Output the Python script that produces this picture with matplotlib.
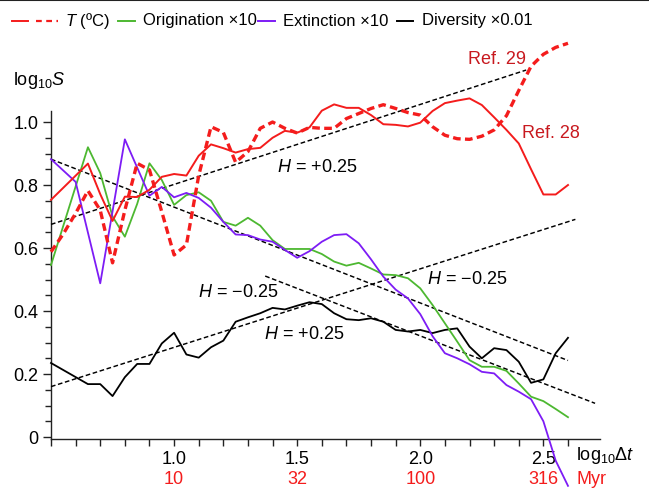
import matplotlib
matplotlib.use("Agg")
import matplotlib.pyplot as plt
from matplotlib.lines import Line2D
from matplotlib.ticker import MultipleLocator

plt.rcParams['font.family'] = ['Liberation Sans', 'DejaVu Sans']
plt.rcParams['mathtext.fontset'] = 'custom'
plt.rcParams['mathtext.rm'] = 'Liberation Sans'
plt.rcParams['mathtext.it'] = 'Liberation Sans:italic'

# temperature, Ref. 28 (solid)
t28_x = [0.5, 0.65, 0.70, 0.75, 0.80, 0.85, 0.90, 0.95, 1.0, 1.05, 1.10, 1.15, 1.20, 1.25,
         1.30, 1.35, 1.40, 1.45, 1.50, 1.55, 1.60, 1.65, 1.70, 1.75, 1.80, 1.85, 1.90, 1.95,
         2.0, 2.05, 2.10, 2.15, 2.20, 2.25, 2.30, 2.35, 2.40, 2.45, 2.50, 2.55, 2.60]
t28_y = [0.753, 0.868, 0.771, 0.686, 0.763, 0.762, 0.785, 0.826, 0.835, 0.830, 0.893, 0.929,
         0.917, 0.903, 0.914, 0.918, 0.950, 0.972, 0.966, 0.983, 1.036, 1.056, 1.045, 1.045,
         1.022, 0.993, 0.991, 0.986, 0.998, 1.035, 1.060, 1.068, 1.075, 1.054, 1.015, 0.975,
         0.932, 0.850, 0.770, 0.770, 0.800]

# temperature, Ref. 29 (dashed)
t29_x = [0.5, 0.55, 0.60, 0.65, 0.70, 0.75, 0.80, 0.85, 0.90, 0.95, 1.0, 1.05, 1.10, 1.15,
         1.20, 1.25, 1.30, 1.35, 1.40, 1.45, 1.50, 1.55, 1.60, 1.65, 1.70, 1.75, 1.80, 1.85,
         1.90, 1.95, 2.0, 2.05, 2.10, 2.15, 2.20, 2.25, 2.30, 2.35, 2.40, 2.45, 2.50, 2.55, 2.60]
t29_y = [0.588, 0.645, 0.710, 0.782, 0.720, 0.553, 0.720, 0.869, 0.848, 0.715, 0.578, 0.610,
         0.830, 0.985, 0.967, 0.872, 0.906, 0.980, 1.000, 0.980, 0.965, 0.983, 0.980, 0.980,
         1.011, 1.027, 1.043, 1.055, 1.043, 1.030, 1.022, 0.985, 0.958, 0.947, 0.945, 0.955,
         0.975, 1.020, 1.100, 1.177, 1.215, 1.237, 1.250]

# origination x10
orig_x = [0.5, 0.65, 0.70, 0.75, 0.80, 0.85, 0.90, 0.95, 1.0, 1.05, 1.10, 1.15, 1.20, 1.25,
          1.30, 1.35, 1.40, 1.45, 1.50, 1.55, 1.60, 1.65, 1.70, 1.75, 1.80, 1.85, 1.90, 1.95,
          2.0, 2.05, 2.10, 2.15, 2.20, 2.25, 2.30, 2.35, 2.40, 2.45, 2.50, 2.55, 2.60]
orig_y = [0.546, 0.920, 0.838, 0.700, 0.636, 0.740, 0.869, 0.816, 0.737, 0.768, 0.777, 0.750,
          0.683, 0.671, 0.696, 0.671, 0.625, 0.597, 0.597, 0.597, 0.581, 0.557, 0.544, 0.553,
          0.535, 0.516, 0.514, 0.504, 0.472, 0.419, 0.361, 0.303, 0.244, 0.223, 0.223, 0.210,
          0.170, 0.128, 0.114, 0.089, 0.063]

# extinction x10
ext_x = [0.5, 0.6, 0.7, 0.8, 0.9, 0.95, 1.0, 1.05, 1.10, 1.15, 1.20, 1.25, 1.30, 1.35, 1.40,
         1.45, 1.50, 1.55, 1.60, 1.65, 1.70, 1.75, 1.80, 1.85, 1.90, 1.95, 2.0, 2.05, 2.10,
         2.15, 2.20, 2.25, 2.30, 2.35, 2.40, 2.45, 2.50, 2.55, 2.60]
ext_y = [0.882, 0.810, 0.488, 0.945, 0.766, 0.794, 0.761, 0.775, 0.759, 0.728, 0.683, 0.643,
         0.641, 0.627, 0.620, 0.594, 0.569, 0.590, 0.620, 0.641, 0.644, 0.615, 0.564, 0.509,
         0.468, 0.440, 0.390, 0.320, 0.266, 0.250, 0.231, 0.207, 0.202, 0.165, 0.144, 0.120,
         0.050, -0.075, -0.155]

# diversity x0.01
div_x = [0.5, 0.65, 0.70, 0.75, 0.80, 0.85, 0.90, 0.95, 1.0, 1.05, 1.10, 1.15, 1.20, 1.25,
         1.30, 1.35, 1.40, 1.45, 1.50, 1.55, 1.60, 1.65, 1.70, 1.75, 1.80, 1.85, 1.90, 1.95,
         2.0, 2.05, 2.10, 2.15, 2.20, 2.25, 2.30, 2.35, 2.40, 2.45, 2.50, 2.55, 2.60]
div_y = [0.235, 0.168, 0.168, 0.130, 0.190, 0.232, 0.232, 0.297, 0.331, 0.262, 0.252, 0.285,
         0.306, 0.366, 0.380, 0.393, 0.410, 0.405, 0.417, 0.428, 0.422, 0.393, 0.374, 0.371,
         0.377, 0.366, 0.340, 0.335, 0.340, 0.330, 0.340, 0.345, 0.287, 0.250, 0.282, 0.276,
         0.239, 0.172, 0.183, 0.266, 0.315]

# reference scaling lines: (x0, x1), (y0, y1)
fit_lines = [
    ((0.50, 2.43), (0.675, 1.165)),
    ((0.50, 2.60), (0.882, 0.243)),
    ((0.50, 2.63), (0.160, 0.691)),
    ((1.37, 2.71), (0.511, 0.107)),
]

h_labels = [
    (1.58, 0.855, '$\\mathit{H}$ = +0.25'),
    (1.26, 0.460, '$\\mathit{H}$ = \u22120.25'),
    (1.53, 0.327, '$\\mathit{H}$ = +0.25'),
    (2.19, 0.500, '$\\mathit{H}$ = \u22120.25'),
]

major_ticks = [1.0, 1.5, 2.0, 2.5]
myr_labels = ['10', '32', '100', '316']

RED = '#f41c1c'
GREEN = '#4db831'
PURPLE = '#7d1cf5'
REF_RED = '#c8191f'

fig = plt.figure(figsize=(6.49, 4.88), dpi=100)
ax = fig.add_axes([51 / 649, (488 - 438.6) / 488, 549 / 649, (438.6 - 111) / 488])

for (xs, ys) in fit_lines:
    ax.plot(xs, ys, color='black', lw=1.05, linestyle=(0, (3.2, 1.8)), clip_on=False, zorder=3)

ax.plot(div_x, div_y, color='black', lw=1.3, clip_on=False, zorder=4)
ax.plot(orig_x, orig_y, color=GREEN, lw=1.3, clip_on=False, zorder=4)
ax.plot(ext_x, ext_y, color=PURPLE, lw=1.3, clip_on=False, zorder=4)
ax.plot(t28_x, t28_y, color=RED, lw=1.4, clip_on=False, zorder=5)
ax.plot(t29_x, t29_y, color=RED, lw=2.4, linestyle=(0, (2.3, 1.3)), clip_on=False, zorder=5)

for x, y, s in h_labels:
    ax.text(x, y, s, fontsize=13, ha='center', va='center', zorder=6)

ax.text(2.31, 1.200, 'Ref. 29', color=REF_RED, fontsize=13, ha='center', va='center')
ax.text(2.53, 0.962, 'Ref. 28', color=REF_RED, fontsize=13, ha='center', va='center')

ax.set_xlim(0.5, 2.73)
ax.set_ylim(-0.005, 1.035)
ax.set_xticks(major_ticks)
ax.set_xticklabels([f'{v:.1f}' for v in major_ticks])
ax.set_xticks([0.5 + 0.1 * i for i in range(22)], minor=True)
ax.set_yticks([0, 0.2, 0.4, 0.6, 0.8, 1.0])
ax.set_yticklabels(['0', '0.2', '0.4', '0.6', '0.8', '1.0'])
ax.yaxis.set_minor_locator(MultipleLocator(0.05))
ax.tick_params(axis='both', which='both', direction='out', width=1.0, labelsize=13, color='#222222')
ax.tick_params(axis='x', which='both', length=5, pad=4)
ax.tick_params(axis='y', which='major', length=6, pad=3)
ax.tick_params(axis='y', which='minor', length=4)
for side in ('top', 'right'):
    ax.spines[side].set_visible(False)
for side in ('left', 'bottom'):
    ax.spines[side].set_linewidth(1.0)
    ax.spines[side].set_color('#222222')

# second row of tick labels in Myr
for x, s in zip(major_ticks, myr_labels):
    ax.annotate(s, xy=(x, 0), xycoords=('data', 'axes fraction'), xytext=(0, -29.3),
                textcoords='offset points', ha='center', va='center', color=RED, fontsize=13)

fig.text(577 / 649, 1 - 479 / 488, 'Myr', color=RED, fontsize=13, ha='left', va='center')
fig.text(576 / 649, 1 - 456 / 488, 'log$_{10}$$\\Delta\\mathit{t}$', fontsize=13, ha='left', va='center')
fig.text(13 / 649, 1 - 81 / 488, 'log$_{10}$$\\mathit{S}$', fontsize=13, ha='left', va='center')

# legend row
def fig_line(x0, x1, y, **kw):
    fig.add_artist(Line2D([x0 / 649, x1 / 649], [1 - y / 488, 1 - y / 488], **kw))

ly = 21
fig_line(12, 28, ly, color=RED, lw=1.4)
fig_line(36, 58, ly, color=RED, lw=1.6, linestyle=(0, (2.6, 2.0)))
fig.text(65 / 649, 1 - ly / 488, '$\\mathit{T}$ (ºC)', fontsize=12, ha='left', va='center')
fig_line(118, 135, ly, color=GREEN, lw=1.4)
fig.text(143 / 649, 1 - ly / 488, 'Origination ×10', fontsize=12, ha='left', va='center')
fig_line(258, 275, ly, color=PURPLE, lw=1.4)
fig.text(283 / 649, 1 - ly / 488, 'Extinction ×10', fontsize=12, ha='left', va='center')
fig_line(397, 413, ly, color='black', lw=1.4)
fig.text(422 / 649, 1 - ly / 488, 'Diversity ×0.01', fontsize=12, ha='left', va='center')

fig.add_artist(Line2D([0, 1], [0.999, 0.999], color='#222222', lw=1.5))

fig.savefig('out.png', dpi=100)
